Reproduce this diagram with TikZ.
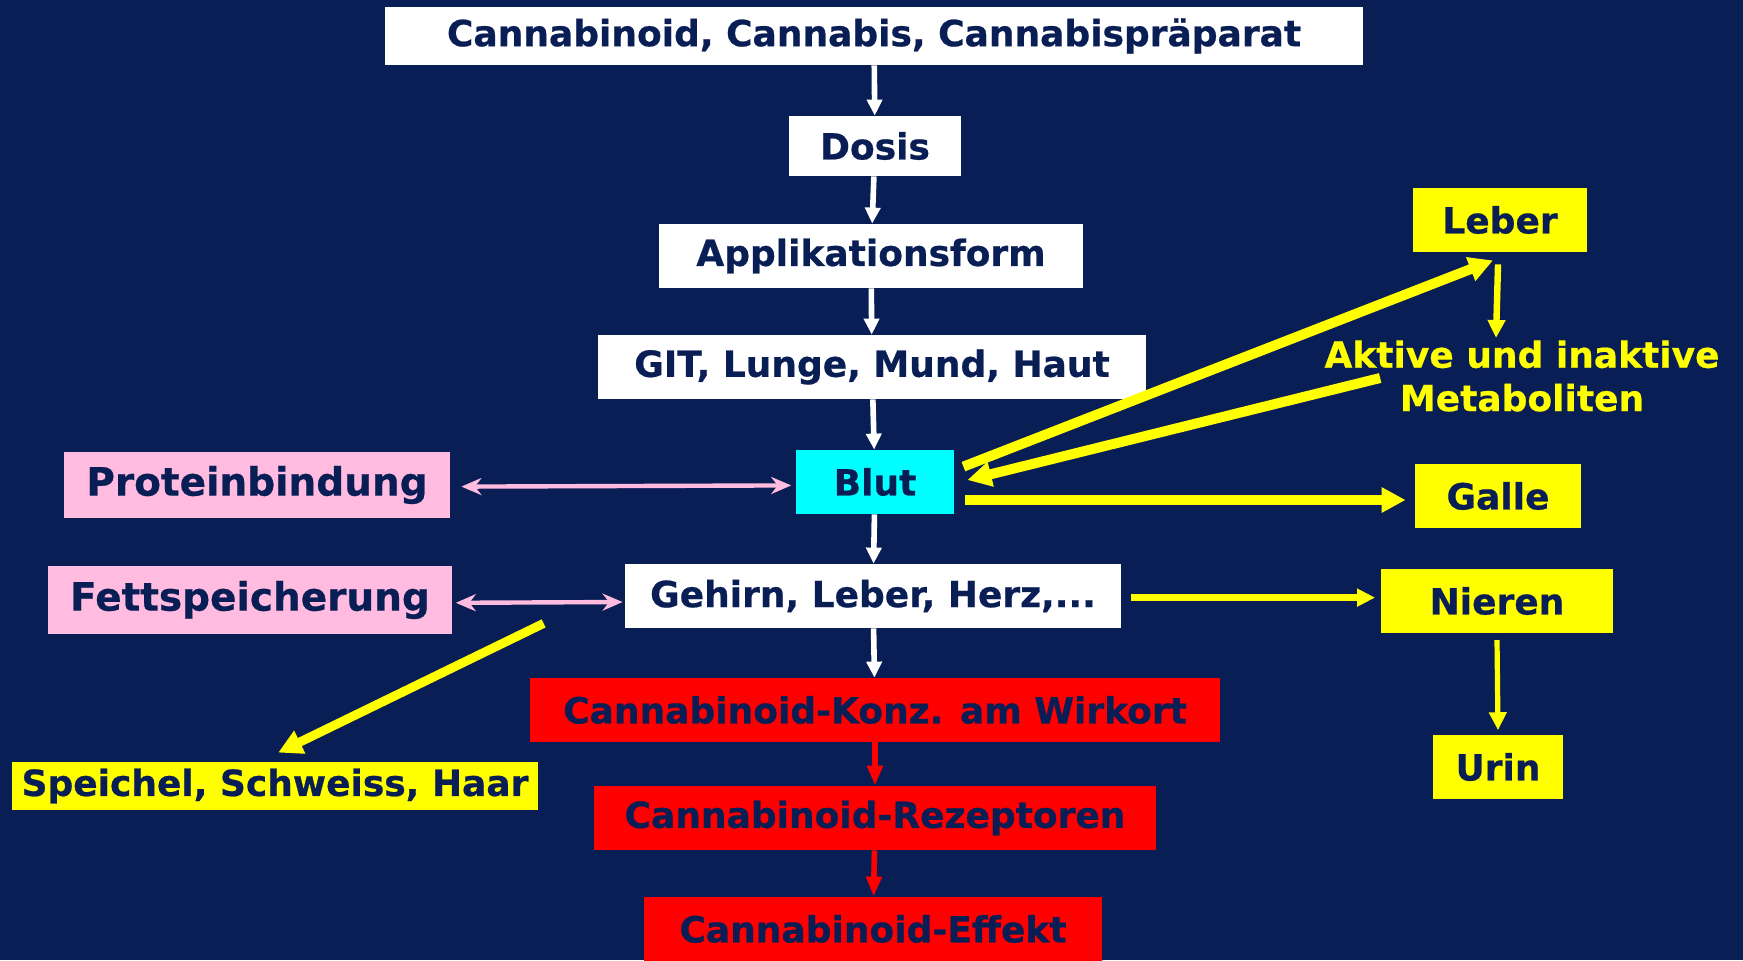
\documentclass[tikz,border=0pt]{standalone}
\usepackage{fontspec}
\setmainfont{DejaVu Sans}[BoldFeatures={FakeBold=0.6}]
\usetikzlibrary{arrows.meta}
\definecolor{navy}{RGB}{10,30,86}
\definecolor{pinkbox}{RGB}{255,187,224}
\definecolor{cyanbox}{RGB}{0,255,255}
\definecolor{redbox}{RGB}{255,0,0}
\definecolor{yellowbox}{RGB}{255,255,0}
\begin{document}
\begin{tikzpicture}[x=0.5pt,y=-0.5pt,
  box/.style={rectangle, inner sep=0pt, text=navy, font=\fontsize{18}{22}\selectfont\bfseries},
  wbox/.style={box, fill=white},
  rbox/.style={box, fill=redbox},
  ybox/.style={box, fill=yellowbox},
  pbox/.style={box, fill=pinkbox, font=\fontsize{19.5}{23}\selectfont\bfseries},
  cbox/.style={box, fill=cyanbox},
  warrow/.style={-{Triangle[length=8pt,width=7.5pt]}, line width=2.8pt, draw=white},
  rarrow/.style={-{Triangle[length=10pt,width=7.5pt]}, line width=2.8pt, draw=redbox},
  yarrow/.style={-{Triangle[length=12pt,width=12pt]}, line width=5pt, draw=yellowbox},
  ythin/.style={-{Triangle[length=9pt,width=8.5pt]}, line width=3.2pt, draw=yellowbox},
  parrow/.style={{Stealth[length=10pt,width=8.5pt]}-{Stealth[length=10pt,width=8.5pt]}, line width=2.2pt, draw=pinkbox}
]
  \useasboundingbox (0,0) rectangle (1743,960);
  \fill[navy] (0,0) rectangle (1743,960);

  % main column
  \node[wbox, minimum width=489pt, minimum height=29pt] (top) at (874,36) {Cannabinoid, Cannabis, Cannabispräparat};
  \node[wbox, minimum width=86pt, minimum height=30pt] (dosis) at (875,146) {Dosis};
  \node[wbox, minimum width=212pt, minimum height=32pt] (appl) at (871,256) {Applikationsform};
  \node[wbox, minimum width=274pt, minimum height=32pt] (git) at (872,367) {GIT, Lunge, Mund, Haut};
  \node[cbox, minimum width=79pt, minimum height=32pt] (blut) at (875,482) {Blut};
  \node[wbox, minimum width=248pt, minimum height=32pt] (gehirn) at (873,596) {Gehirn, Leber, Herz,...};
  \node[rbox, minimum width=345pt, minimum height=32pt] (konz) at (875,710) {Cannabinoid-Konz. am Wirkort};
  \node[rbox, minimum width=281pt, minimum height=32pt] (rez) at (875,818) {Cannabinoid-Rezeptoren};
  \node[rbox, minimum width=229pt, minimum height=32pt] (effekt) at (873,929) {Cannabinoid-Effekt};

  % left side
  \node[pbox, minimum width=193pt, minimum height=33pt] (protein) at (257,485) {Proteinbindung};
  \node[pbox, minimum width=202pt, minimum height=34pt] (fett) at (250,600) {Fettspeicherung};
  \node[ybox, minimum width=263pt, minimum height=24pt] (speichel) at (275,786) {Speichel, Schweiss, Haar};

  % right side
  \node[ybox, minimum width=87pt, minimum height=32pt] (leber) at (1500,220) {Leber};
  \node[box, text=yellowbox, align=center, font=\fontsize{18}{21.7}\selectfont\bfseries] (metab) at (1522,376) {Aktive und inaktive\\Metaboliten};
  \node[ybox, minimum width=83pt, minimum height=32pt] (galle) at (1498,496) {Galle};
  \node[ybox, minimum width=116pt, minimum height=32pt] (nieren) at (1497,601) {Nieren};
  \node[ybox, minimum width=65pt, minimum height=32pt] (urin) at (1498,767) {Urin};

  \draw[warrow] (top) -- (dosis);
  \draw[warrow] (dosis) -- (appl);
  \draw[warrow] (appl) -- (git);
  \draw[warrow] (git) -- (blut);
  \draw[warrow] (blut) -- (gehirn);
  \draw[warrow] (gehirn) -- (konz);
  \draw[rarrow] (konz) -- (rez);
  \draw[rarrow] (rez) -- (effekt);

  \draw[yarrow] ([xshift=4.5pt,yshift=7.7pt]blut.east) -- ([xshift=-3.5pt,yshift=-4pt]leber.south);
  \draw[yarrow] ([xshift=28pt,yshift=-1pt]metab.west) -- ([xshift=6.5pt,yshift=1pt]blut.east);
  \draw[yarrow] ([xshift=5.5pt,yshift=-9pt]blut.east) -- ([xshift=-4.5pt,yshift=-2pt]galle.west);
  \draw[ythin] ([xshift=-1pt,yshift=-6pt]leber.south) -- ([xshift=-13pt,yshift=1pt]metab.north);
  \draw[ythin] ([xshift=5pt,yshift=-0.8pt]gehirn.east) -- ([xshift=-2.75pt,yshift=1.7pt]nieren.west);
  \draw[ythin, line width=2.6pt] ([yshift=-3.3pt]nieren.south) -- ([yshift=2.2pt]urin.north);
  \draw[yarrow, line width=4.5pt] ([xshift=45.6pt,yshift=5.5pt]fett.south east) -- ([xshift=1.6pt,yshift=4.5pt]speichel.north);

  \draw[parrow] ([xshift=5.5pt,yshift=-0.8pt]protein.east) -- ([xshift=-2.2pt,yshift=-1.7pt]blut.west);
  \draw[parrow] ([xshift=1.7pt,yshift=-1.4pt]fett.east) -- ([xshift=-1pt,yshift=-3pt]gehirn.west);
\end{tikzpicture}
\end{document}
